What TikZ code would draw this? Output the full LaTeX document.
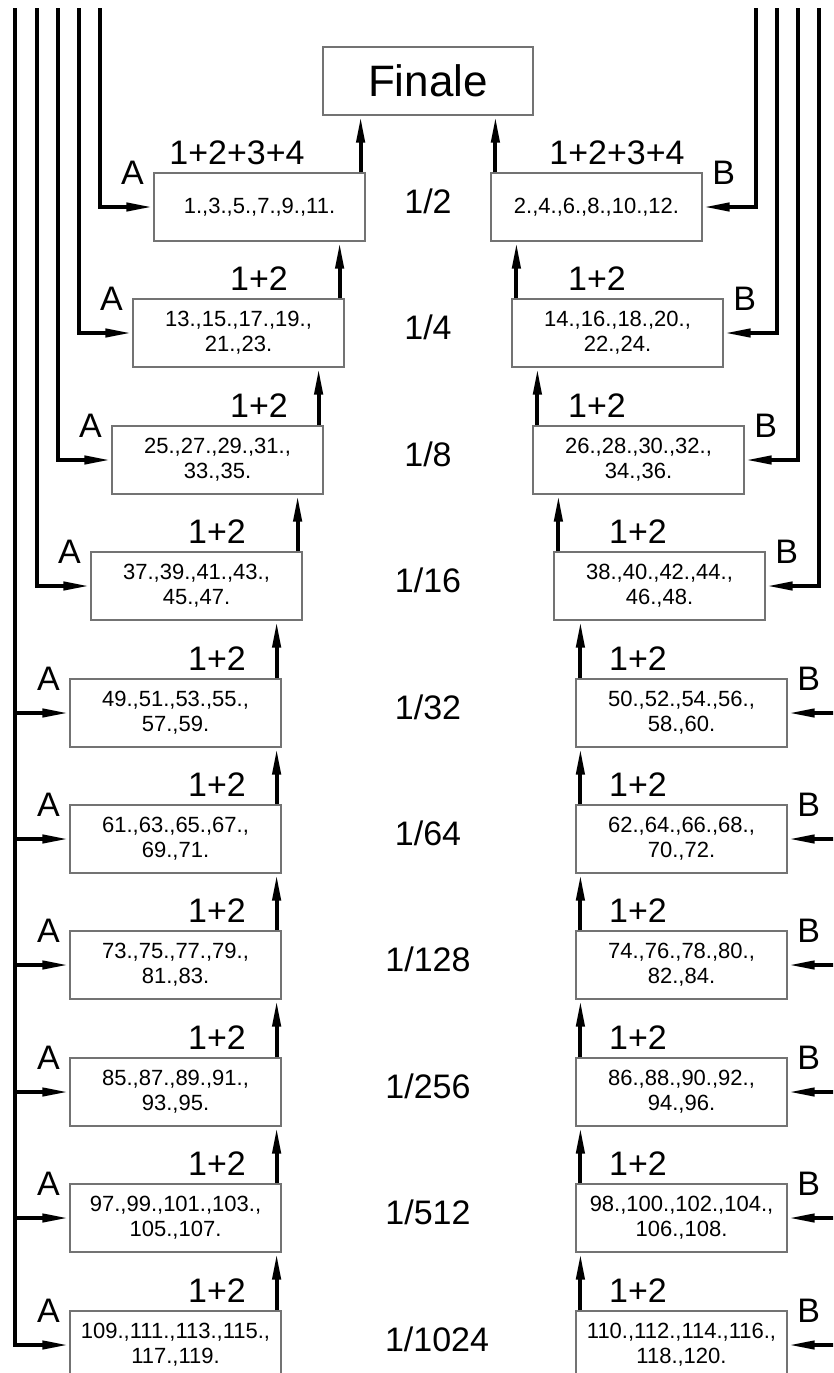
\documentclass[tikz,border=0pt]{standalone}
\usepackage{fontspec}
\setmainfont{Liberation Sans}
\usetikzlibrary{arrows.meta}

\begin{document}
\begin{tikzpicture}[
    x=1pt, y=-1pt,
    box/.style={draw=black!55, line width=1.2pt, minimum width=211pt, minimum height=68pt,
        inner sep=0pt, align=center, font=\fontsize{22}{25}\selectfont}, % Style for the match boxes
    finbox/.style={box, minimum width=210pt, font=\fontsize{44}{50}\selectfont}, % Style for the final
    tag/.style={inner sep=0pt, font=\fontsize{34}{40}\selectfont}, % Style for A / B and 1+2
    stage/.style={inner sep=0pt, font=\fontsize{34}{40}\selectfont}, % Style for 1/2, 1/4 ...
    feed/.style={line width=4pt, -{Triangle[length=27pt, width=8pt]}}, % thick feeding lines
    up/.style={line width=4pt, -{Triangle[length=27pt, width=8pt]}} % winners going up
]
\useasboundingbox (0,0) rectangle (833,1373);
\clip (0,0) rectangle (833,1373);

% Define coordinates for the tops of the feeding lines
\coordinate (ca1) at (100, 8);
\coordinate (ca2) at (79, 8);
\coordinate (ca3) at (58, 8);
\coordinate (ca4) at (37, 8);
\coordinate (ca5) at (15, 8);
\coordinate (cb1) at (756, 8);
\coordinate (cb2) at (777, 8);
\coordinate (cb3) at (798, 8);
\coordinate (cb4) at (819, 8);
\coordinate (cb5) at (841, 8);

% The final
\node[finbox] (fin) at (428, 81) {Finale};

% Left side (A)
\node[box] (a1) at (259.5, 207) {1.,3.,5.,7.,9.,11.};
\node[box] (a2) at (238.5, 333) {13.,15.,17.,19.,\\21.,23.};
\node[box] (a3) at (217.5, 460) {25.,27.,29.,31.,\\33.,35.};
\node[box] (a4) at (196.5, 586) {37.,39.,41.,43.,\\45.,47.};
\node[box] (a5) at (175.5, 713) {49.,51.,53.,55.,\\57.,59.};
\node[box] (a6) at (175.5, 839) {61.,63.,65.,67.,\\69.,71.};
\node[box] (a7) at (175.5, 965) {73.,75.,77.,79.,\\81.,83.};
\node[box] (a8) at (175.5, 1092) {85.,87.,89.,91.,\\93.,95.};
\node[box] (a9) at (175.5, 1218) {97.,99.,101.,103.,\\105.,107.};
\node[box] (a10) at (175.5, 1345) {109.,111.,113.,115.,\\117.,119.};

% Right side (B)
\node[box] (b1) at (596.5, 207) {2.,4.,6.,8.,10.,12.};
\node[box] (b2) at (617.5, 333) {14.,16.,18.,20.,\\22.,24.};
\node[box] (b3) at (638.5, 460) {26.,28.,30.,32.,\\34.,36.};
\node[box] (b4) at (659.5, 586) {38.,40.,42.,44.,\\46.,48.};
\node[box] (b5) at (681.5, 713) {50.,52.,54.,56.,\\58.,60.};
\node[box] (b6) at (681.5, 839) {62.,64.,66.,68.,\\70.,72.};
\node[box] (b7) at (681.5, 965) {74.,76.,78.,80.,\\82.,84.};
\node[box] (b8) at (681.5, 1092) {86.,88.,90.,92.,\\94.,96.};
\node[box] (b9) at (681.5, 1218) {98.,100.,102.,104.,\\106.,108.};
\node[box] (b10) at (681.5, 1345) {110.,112.,114.,116.,\\118.,120.};

% Rounds in the middle
\node[stage] (st1) at (428, 201) {1/2};
\node[stage] (st2) at (428, 327) {1/4};
\node[stage] (st3) at (428, 454) {1/8};
\node[stage] (st4) at (428, 580) {1/16};
\node[stage] (st5) at (428, 707) {1/32};
\node[stage] (st6) at (428, 833) {1/64};
\node[stage] (st7) at (428, 959) {1/128};
\node[stage] (st8) at (428, 1086) {1/256};
\node[stage] (st9) at (428, 1212) {1/512};
\node[stage] (st10) at (437, 1339) {1/1024};

% A and B next to the boxes
\node[tag] (la1) at ([xshift=-21pt]a1.north west) {A};
\node[tag] (la2) at ([xshift=-21pt]a2.north west) {A};
\node[tag] (la3) at ([xshift=-21pt]a3.north west) {A};
\node[tag] (la4) at ([xshift=-21pt]a4.north west) {A};
\node[tag] (la5) at ([xshift=-21pt]a5.north west) {A};
\node[tag] (la6) at ([xshift=-21pt]a6.north west) {A};
\node[tag] (la7) at ([xshift=-21pt]a7.north west) {A};
\node[tag] (la8) at ([xshift=-21pt]a8.north west) {A};
\node[tag] (la9) at ([xshift=-21pt]a9.north west) {A};
\node[tag] (la10) at ([xshift=-21pt]a10.north west) {A};
\node[tag] (lb1) at ([xshift=21pt]b1.north east) {B};
\node[tag] (lb2) at ([xshift=21pt]b2.north east) {B};
\node[tag] (lb3) at ([xshift=21pt]b3.north east) {B};
\node[tag] (lb4) at ([xshift=21pt]b4.north east) {B};
\node[tag] (lb5) at ([xshift=21pt]b5.north east) {B};
\node[tag] (lb6) at ([xshift=21pt]b6.north east) {B};
\node[tag] (lb7) at ([xshift=21pt]b7.north east) {B};
\node[tag] (lb8) at ([xshift=21pt]b8.north east) {B};
\node[tag] (lb9) at ([xshift=21pt]b9.north east) {B};
\node[tag] (lb10) at ([xshift=21pt]b10.north east) {B};

% Sums above the boxes
\node[tag] (sa1) at (237, 153) {1+2+3+4};
\node[tag] (sa2) at (259, 279) {1+2};
\node[tag] (sa3) at (259, 406) {1+2};
\node[tag] (sa4) at (217, 532) {1+2};
\node[tag] (sa5) at (217, 659) {1+2};
\node[tag] (sa6) at (217, 785) {1+2};
\node[tag] (sa7) at (217, 911) {1+2};
\node[tag] (sa8) at (217, 1038) {1+2};
\node[tag] (sa9) at (217, 1164) {1+2};
\node[tag] (sa10) at (217, 1291) {1+2};
\node[tag] (sb1) at (617, 153) {1+2+3+4};
\node[tag] (sb2) at (597, 279) {1+2};
\node[tag] (sb3) at (597, 406) {1+2};
\node[tag] (sb4) at (638, 532) {1+2};
\node[tag] (sb5) at (638, 659) {1+2};
\node[tag] (sb6) at (638, 785) {1+2};
\node[tag] (sb7) at (638, 911) {1+2};
\node[tag] (sb8) at (638, 1038) {1+2};
\node[tag] (sb9) at (638, 1164) {1+2};
\node[tag] (sb10) at (638, 1291) {1+2};

% Feeding lines, left
\draw[feed] (ca1) |- (a1.west);
\draw[feed] (ca2) |- (a2.west);
\draw[feed] (ca3) |- (a3.west);
\draw[feed] (ca4) |- (a4.west);
\draw[feed] (ca5) |- (a10.west);
\draw[feed] (ca5 |- a5.west) -- (a5.west);
\draw[feed] (ca5 |- a6.west) -- (a6.west);
\draw[feed] (ca5 |- a7.west) -- (a7.west);
\draw[feed] (ca5 |- a8.west) -- (a8.west);
\draw[feed] (ca5 |- a9.west) -- (a9.west);

% Feeding lines, right
\draw[feed] (cb1) |- (b1.east);
\draw[feed] (cb2) |- (b2.east);
\draw[feed] (cb3) |- (b3.east);
\draw[feed] (cb4) |- (b4.east);
\draw[feed] (cb5) |- (b10.east);
\draw[feed] (cb5 |- b5.east) -- (b5.east);
\draw[feed] (cb5 |- b6.east) -- (b6.east);
\draw[feed] (cb5 |- b7.east) -- (b7.east);
\draw[feed] (cb5 |- b8.east) -- (b8.east);
\draw[feed] (cb5 |- b9.east) -- (b9.east);

% Winners going up, left
\draw[up] ([xshift=-5pt]a1.north east) -- ([xshift=-5pt]a1.north east |- fin.south);
\draw[up] ([xshift=-5pt]a2.north east) -- ([xshift=-5pt]a2.north east |- a1.south);
\draw[up] ([xshift=-5pt]a3.north east) -- ([xshift=-5pt]a3.north east |- a2.south);
\draw[up] ([xshift=-5pt]a4.north east) -- ([xshift=-5pt]a4.north east |- a3.south);
\draw[up] ([xshift=-5pt]a5.north east) -- ([xshift=-5pt]a5.north east |- a4.south);
\draw[up] ([xshift=-5pt]a6.north east) -- ([xshift=-5pt]a6.north east |- a5.south);
\draw[up] ([xshift=-5pt]a7.north east) -- ([xshift=-5pt]a7.north east |- a6.south);
\draw[up] ([xshift=-5pt]a8.north east) -- ([xshift=-5pt]a8.north east |- a7.south);
\draw[up] ([xshift=-5pt]a9.north east) -- ([xshift=-5pt]a9.north east |- a8.south);
\draw[up] ([xshift=-5pt]a10.north east) -- ([xshift=-5pt]a10.north east |- a9.south);

% Winners going up, right
\draw[up] ([xshift=5pt]b1.north west) -- ([xshift=5pt]b1.north west |- fin.south);
\draw[up] ([xshift=5pt]b2.north west) -- ([xshift=5pt]b2.north west |- b1.south);
\draw[up] ([xshift=5pt]b3.north west) -- ([xshift=5pt]b3.north west |- b2.south);
\draw[up] ([xshift=5pt]b4.north west) -- ([xshift=5pt]b4.north west |- b3.south);
\draw[up] ([xshift=5pt]b5.north west) -- ([xshift=5pt]b5.north west |- b4.south);
\draw[up] ([xshift=5pt]b6.north west) -- ([xshift=5pt]b6.north west |- b5.south);
\draw[up] ([xshift=5pt]b7.north west) -- ([xshift=5pt]b7.north west |- b6.south);
\draw[up] ([xshift=5pt]b8.north west) -- ([xshift=5pt]b8.north west |- b7.south);
\draw[up] ([xshift=5pt]b9.north west) -- ([xshift=5pt]b9.north west |- b8.south);
\draw[up] ([xshift=5pt]b10.north west) -- ([xshift=5pt]b10.north west |- b9.south);

\end{tikzpicture}
\end{document}
